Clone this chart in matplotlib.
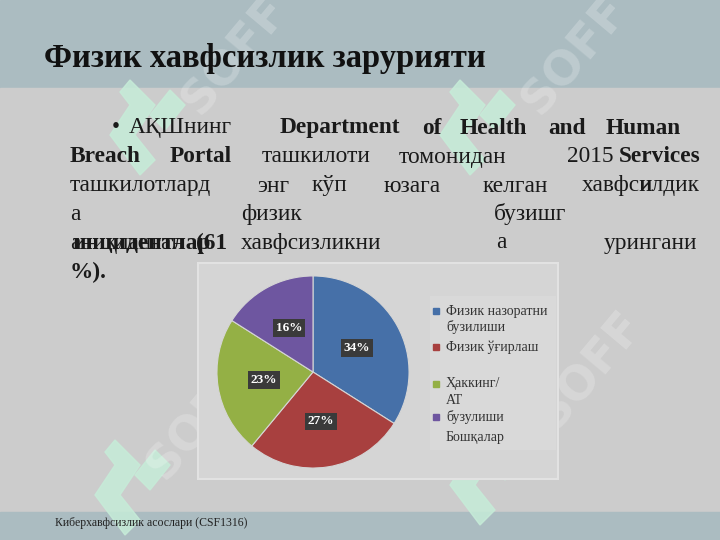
import matplotlib
matplotlib.use('Agg')
import matplotlib.pyplot as plt
from matplotlib.patches import Rectangle, Polygon

# pie data
categories = ['Физик назоратни бузилиши', 'Физик ўғирлаш', 'Ҳаккинг/АТ бузулиши', 'Бошқалар']
shares = [34, 27, 23, 16]
colors = ['#4670a8', '#a8403f', '#94b045', '#6e56a0']

# legend lines as they appear on the slide (text, y in px, marker colour or None)
legend_lines = [('Физик назоратни', 311, colors[0]), ('бузилиши', 327, None),
                ('Физик ўғирлаш', 347, colors[1]), ('Ҳаккинг/', 384, colors[2]),
                ('АТ', 400, None), ('бузулиши', 417, colors[3]), ('Бошқалар', 438, None)]

# body text words: (text, x, y, bold)
body_words = [
    ('•', 112, 128, False), ('АҚШнинг', 129, 128, False),
    ('Department', 280, 128, True), ('of', 422, 128, True), ('Health', 460, 128, True),
    ('and', 548, 128, True), ('Human', 606, 128, True),
    ('Breach', 70, 157, True), ('Portal', 170, 157, True), ('ташкилоти', 262, 157, False),
    ('томонидан', 399, 157, False), ('2015', 567, 157, False), ('Services', 619, 157, True),
    ('ташкилотлард', 70, 186, False), ('энг', 257, 186, False), ('кўп', 312, 186, False),
    ('юзага', 384, 186, False), ('келган', 483, 186, False), ('хавфси', 582, 186, False),
    ('илдик', 640, 186, False),
    ('а', 70, 214, False), ('физик', 241, 214, False), ('бузишг', 494, 214, False),
    ('аниқланган', 70, 243, False), ('инцидентлар', 72, 243, True), ('(61', 196, 243, True),
    ('хавфсизликни', 241, 243, False), ('а', 496, 243, False), ('урингани', 604, 243, False),
    ('%).', 70, 272, True),
]

W, H = 720, 540
fig = plt.figure(figsize=(7.2, 5.4), dpi=100)

def fx(x):
    return x / W

def fy(y):
    return 1 - y / H

# slide background bands
fig.patches.append(Rectangle((0, fy(88)), 1, 1 - fy(88), transform=fig.transFigure, color='#abbcc1', zorder=0))
fig.patches.append(Rectangle((0, fy(512)), 1, fy(88) - fy(512), transform=fig.transFigure, color='#cccccc', zorder=0))
fig.patches.append(Rectangle((0, 0), 1, fy(512), transform=fig.transFigure, color='#abbcc1', zorder=0))

# watermark logos (green) and SOFF text
def logo(x0, y0):
    pts1 = [(x0 + 20, y0), (x0 + 45, y0 + 25), (x0 + 25, y0 + 55), (x0 + 45, y0 + 80), (x0 + 30, y0 + 95),
            (x0, y0 + 55), (x0 + 20, y0 + 25), (x0 + 10, y0 + 12)]
    pts2 = [(x0 + 60, y0 + 10), (x0 + 75, y0 + 25), (x0 + 55, y0 + 50), (x0 + 40, y0 + 35)]
    for pts in (pts1, pts2):
        fig.patches.append(Polygon([(fx(a), fy(b)) for a, b in pts], closed=True, transform=fig.transFigure,
                                   color='#c6ecd8', alpha=0.85, zorder=1))

for lx, ly in [(110, 80), (440, 80), (95, 440), (450, 430)]:
    logo(lx, ly)

for sx, sy in [(235, 55), (575, 55), (200, 420), (590, 370)]:
    fig.text(fx(sx), fy(sy), 'SOFF', rotation=50, fontsize=34, fontweight='bold', color='white',
             alpha=0.22, ha='center', va='center', family='DejaVu Sans', zorder=1)

# title
fig.text(fx(44), fy(58), 'Физик хавфсизлик зарурияти', fontsize=23.5, fontweight='bold',
         family='Liberation Serif', color='#111111', ha='left', va='center', zorder=5)

# body text
for txt, x, y, bold in body_words:
    fig.text(fx(x), fy(y), txt, fontsize=16.8, fontweight='bold' if bold else 'normal',
             family='Liberation Serif', color='#1a1a1a', ha='left', va='center', zorder=5)

# chart panel
fig.patches.append(Rectangle((fx(198), fy(479)), fx(558) - fx(198), fy(263) - fy(479), transform=fig.transFigure,
                             facecolor='#d5d5d5', edgecolor='#e2e2e2', lw=1.5, zorder=2))
fig.patches.append(Rectangle((fx(430), fy(450)), fx(556) - fx(430), fy(296) - fy(450), transform=fig.transFigure,
                             facecolor='#d9d9d9', edgecolor='none', zorder=3))

ax = fig.add_axes([fx(216), fy(469), fx(410) - fx(216), fy(275) - fy(469)], zorder=4)
wedges, texts, autotexts = ax.pie(shares, colors=colors, startangle=90, counterclock=False,
                                  autopct='%d%%', pctdistance=0.52,
                                  wedgeprops=dict(edgecolor='#d5d5d5', linewidth=0.8))
for t in autotexts:
    t.set_color('white')
    t.set_fontsize(9.5)
    t.set_fontweight('bold')
    t.set_family('Liberation Serif')
    t.set_bbox(dict(facecolor='#3a3a3a', edgecolor='none', pad=2))
ax.set_aspect('equal')
ax.set_xlim(-1.01, 1.01)
ax.set_ylim(-1.01, 1.01)
ax.axis('off')

# legend drawn line by line to keep the slide's wrapping
for txt, y, col in legend_lines:
    if col is not None:
        fig.patches.append(Rectangle((fx(433), fy(y + 3)), fx(6), fy(0) - fy(6), transform=fig.transFigure,
                                     color=col, zorder=5))
    fig.text(fx(446), fy(y), txt, fontsize=10, family='Liberation Serif', color='#333333',
             ha='left', va='center', zorder=5)

# footer
fig.text(fx(55), fy(523), 'Киберхавфсизлик асослари (CSF1316)', fontsize=8.5, family='Liberation Serif',
         color='#222222', ha='left', va='center', zorder=5)

fig.savefig('out.png', dpi=100)
